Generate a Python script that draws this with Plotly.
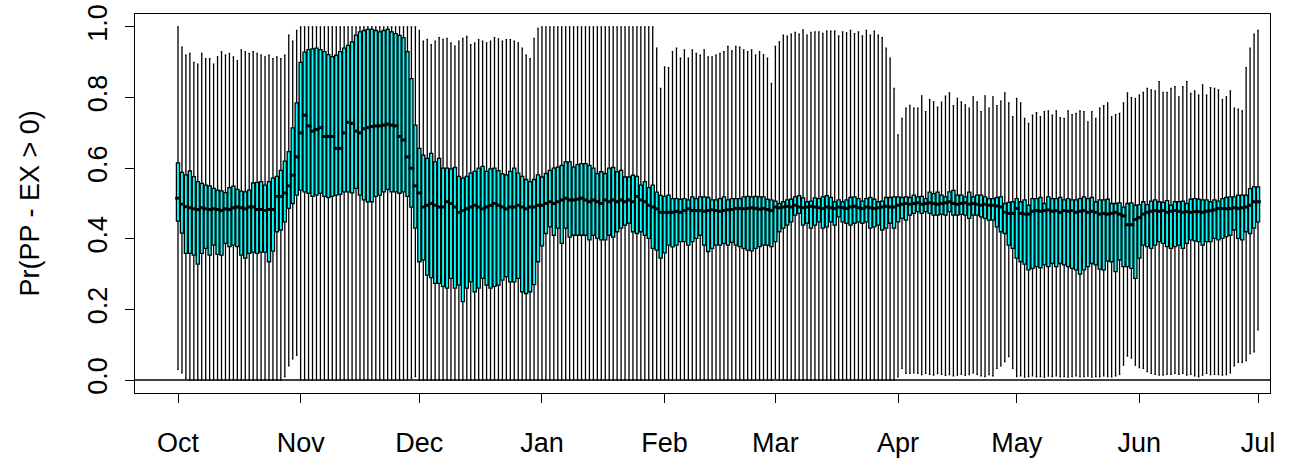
import pandas as pd
import plotly.graph_objects as go

# One box per day, 1 Oct to 1 Jul
days = pd.date_range("2018-10-01", "2019-07-01", freq="D")

month_starts = pd.date_range("2018-10-01", "2019-07-01", freq="MS")
month_labels = ["Oct", "Nov", "Dec", "Jan", "Feb", "Mar", "Apr", "May", "Jun", "Jul"]

# Upper whisker ends
upper = [
    # Oct
    1.0, 0.943, 0.92, 0.925, 0.90, 0.895, 0.925, 0.91, 0.91, 0.895, 0.915, 0.93, 0.92, 0.925, 0.915, 0.905,
    0.935, 0.93, 0.925, 0.93, 0.925, 0.92, 0.915, 0.92, 0.91, 0.915, 0.91, 0.92, 0.977, 0.96, 0.99,
    # Nov
    1.0, 1.0, 1.0, 1.0, 1.0, 1.0, 1.0, 1.0, 1.0, 1.0, 1.0, 1.0, 1.0, 1.0, 1.0,
    1.0, 1.0, 1.0, 1.0, 1.0, 1.0, 1.0, 1.0, 1.0, 1.0, 1.0, 1.0, 1.0, 1.0, 1.0,
    # Dec
    0.99, 0.96, 0.965, 0.95, 0.96, 0.97, 0.965, 0.968, 0.955, 0.946, 0.96, 0.968, 0.973, 0.95, 0.955, 0.964,
    0.96, 0.955, 0.96, 0.97, 0.966, 0.96, 0.964, 0.964, 0.96, 0.955, 0.94, 0.92, 0.91, 0.968, 0.996,
    # Jan
    1.0, 1.0, 1.0, 1.0, 1.0, 1.0, 1.0, 1.0, 1.0, 1.0, 1.0, 1.0, 1.0, 1.0, 1.0, 1.0,
    1.0, 1.0, 1.0, 1.0, 1.0, 1.0, 1.0, 1.0, 1.0, 1.0, 1.0, 1.0, 1.0, 0.94, 0.826,
    # Feb
    0.887, 0.885, 0.93, 0.94, 0.912, 0.935, 0.912, 0.935, 0.925, 0.92, 0.935, 0.915, 0.915, 0.92,
    0.925, 0.93, 0.945, 0.932, 0.945, 0.943, 0.935, 0.93, 0.935, 0.92, 0.93, 0.922, 0.912, 0.84,
    # Mar
    0.945, 0.958, 0.977, 0.974, 0.98, 0.985, 0.98, 0.992, 0.977, 0.985, 0.986, 0.986, 0.982, 0.988, 0.988, 0.988,
    0.975, 0.986, 0.983, 0.99, 0.981, 0.986, 0.975, 0.99, 0.977, 0.988, 0.977, 0.97, 0.94, 0.912, 0.826,
    # Apr
    0.694, 0.741, 0.77, 0.778, 0.77, 0.77, 0.805, 0.76, 0.794, 0.788, 0.773, 0.787, 0.804, 0.813, 0.777,
    0.798, 0.788, 0.779, 0.77, 0.802, 0.788, 0.76, 0.805, 0.77, 0.802, 0.777, 0.79, 0.813, 0.785, 0.746,
    # May
    0.798, 0.785, 0.741, 0.727, 0.75, 0.757, 0.746, 0.76, 0.762, 0.75, 0.762, 0.743, 0.741, 0.762, 0.752, 0.755,
    0.762, 0.76, 0.731, 0.76, 0.741, 0.77, 0.777, 0.785, 0.746, 0.752, 0.755, 0.785, 0.813, 0.80, 0.798,
    # Jun
    0.807, 0.815, 0.826, 0.822, 0.819, 0.845, 0.815, 0.815, 0.826, 0.831, 0.802, 0.831, 0.845, 0.812, 0.819,
    0.807, 0.836, 0.807, 0.828, 0.826, 0.822, 0.794, 0.802, 0.819, 0.77, 0.767, 0.762, 0.885, 0.94, 0.98,
    # Jul
    0.99,
]

# Upper quartiles
q3 = [
    # Oct
    0.615, 0.588, 0.581, 0.592, 0.576, 0.562, 0.557, 0.552, 0.55, 0.543, 0.538, 0.536, 0.531, 0.545, 0.549, 0.54,
    0.535, 0.533, 0.538, 0.558, 0.56, 0.562, 0.552, 0.562, 0.572, 0.577, 0.594, 0.62, 0.647, 0.714, 0.785,
    # Nov
    0.90, 0.929, 0.936, 0.938, 0.94, 0.936, 0.93, 0.922, 0.916, 0.92, 0.93, 0.94, 0.948, 0.958, 0.977,
    0.986, 0.99, 0.993, 0.993, 0.99, 0.986, 0.99, 0.993, 0.986, 0.981, 0.976, 0.97, 0.93, 0.854, 0.722,
    # Dec
    0.656, 0.637, 0.628, 0.642, 0.618, 0.628, 0.60, 0.60, 0.598, 0.602, 0.577, 0.572, 0.577, 0.586, 0.591, 0.60,
    0.605, 0.591, 0.598, 0.60, 0.593, 0.584, 0.581, 0.591, 0.60, 0.586, 0.577, 0.568, 0.562, 0.568, 0.581,
    # Jan
    0.575, 0.585, 0.594, 0.60, 0.603, 0.608, 0.618, 0.618, 0.603, 0.61, 0.613, 0.613, 0.608, 0.60, 0.585, 0.59,
    0.585, 0.60, 0.602, 0.59, 0.594, 0.575, 0.575, 0.58, 0.577, 0.552, 0.562, 0.545, 0.552, 0.532, 0.523,
    # Feb
    0.52, 0.524, 0.514, 0.514, 0.512, 0.514, 0.51, 0.519, 0.514, 0.519, 0.519, 0.517, 0.51, 0.51,
    0.514, 0.519, 0.51, 0.514, 0.514, 0.514, 0.519, 0.52, 0.519, 0.52, 0.519, 0.519, 0.512, 0.51,
    # Mar
    0.507, 0.50, 0.505, 0.51, 0.512, 0.519, 0.522, 0.516, 0.505, 0.507, 0.516, 0.514, 0.519, 0.522, 0.517, 0.505,
    0.51, 0.505, 0.51, 0.517, 0.519, 0.514, 0.507, 0.514, 0.517, 0.512, 0.505, 0.507, 0.517, 0.517, 0.519,
    # Apr
    0.519, 0.517, 0.519, 0.517, 0.524, 0.519, 0.52, 0.514, 0.532, 0.528, 0.532, 0.524, 0.519, 0.533, 0.537,
    0.524, 0.524, 0.519, 0.532, 0.519, 0.524, 0.524, 0.519, 0.514, 0.514, 0.517, 0.519, 0.50, 0.503, 0.505,
    # May
    0.514, 0.505, 0.51, 0.495, 0.514, 0.514, 0.517, 0.50, 0.519, 0.514, 0.514, 0.517, 0.51, 0.514, 0.51, 0.51,
    0.514, 0.519, 0.514, 0.517, 0.505, 0.51, 0.51, 0.512, 0.50, 0.50, 0.502, 0.49, 0.50, 0.502, 0.495,
    # Jun
    0.497, 0.505, 0.497, 0.507, 0.51, 0.505, 0.503, 0.508, 0.495, 0.505, 0.505, 0.507, 0.50, 0.512, 0.514,
    0.512, 0.51, 0.51, 0.505, 0.51, 0.507, 0.514, 0.517, 0.519, 0.519, 0.524, 0.524, 0.524, 0.542, 0.547,
    # Jul
    0.547,
]

# Medians
median = [
    # Oct
    0.515, 0.498, 0.491, 0.488, 0.485, 0.483, 0.488, 0.485, 0.483, 0.485, 0.483, 0.48, 0.485, 0.483, 0.488, 0.49,
    0.488, 0.485, 0.49, 0.49, 0.483, 0.483, 0.48, 0.483, 0.483, 0.52, 0.52, 0.53, 0.55, 0.58, 0.632,
    # Nov
    0.70, 0.75, 0.72, 0.705, 0.71, 0.715, 0.69, 0.69, 0.69, 0.656, 0.656, 0.70, 0.73, 0.727, 0.705,
    0.70, 0.712, 0.715, 0.718, 0.72, 0.72, 0.722, 0.725, 0.722, 0.72, 0.69, 0.68, 0.632, 0.60, 0.55,
    # Dec
    0.53, 0.49, 0.495, 0.50, 0.495, 0.49, 0.49, 0.505, 0.50, 0.49, 0.475, 0.48, 0.485, 0.49, 0.495, 0.49,
    0.485, 0.49, 0.495, 0.50, 0.495, 0.49, 0.485, 0.49, 0.49, 0.495, 0.49, 0.485, 0.49, 0.49, 0.495,
    # Jan
    0.495, 0.50, 0.505, 0.50, 0.505, 0.51, 0.515, 0.51, 0.51, 0.512, 0.515, 0.51, 0.505, 0.51, 0.505, 0.50,
    0.51, 0.505, 0.51, 0.505, 0.51, 0.505, 0.51, 0.505, 0.52, 0.51, 0.505, 0.495, 0.49, 0.485, 0.475,
    # Feb
    0.475, 0.475, 0.475, 0.478, 0.475, 0.48, 0.485, 0.48, 0.48, 0.48, 0.478, 0.48, 0.482, 0.48,
    0.478, 0.48, 0.482, 0.483, 0.486, 0.486, 0.485, 0.486, 0.488, 0.486, 0.484, 0.486, 0.483, 0.48,
    # Mar
    0.49, 0.488, 0.49, 0.492, 0.49, 0.495, 0.49, 0.488, 0.49, 0.492, 0.49, 0.488, 0.486, 0.49, 0.488, 0.486,
    0.49, 0.488, 0.486, 0.49, 0.492, 0.488, 0.486, 0.49, 0.488, 0.486, 0.488, 0.49, 0.492, 0.49, 0.49,
    # Apr
    0.495, 0.498, 0.50, 0.498, 0.50, 0.502, 0.498, 0.50, 0.502, 0.50, 0.498, 0.50, 0.502, 0.505, 0.50,
    0.498, 0.50, 0.502, 0.498, 0.50, 0.498, 0.495, 0.498, 0.495, 0.495, 0.493, 0.49, 0.475, 0.472, 0.472,
    # May
    0.486, 0.472, 0.47, 0.47, 0.478, 0.48, 0.478, 0.48, 0.482, 0.478, 0.48, 0.475, 0.48, 0.478, 0.48, 0.475,
    0.478, 0.48, 0.475, 0.478, 0.475, 0.47, 0.472, 0.47, 0.472, 0.475, 0.47, 0.465, 0.44, 0.44, 0.455,
    # Jun
    0.46, 0.47, 0.475, 0.478, 0.48, 0.478, 0.48, 0.475, 0.478, 0.48, 0.478, 0.475, 0.477, 0.475, 0.477,
    0.477, 0.475, 0.478, 0.48, 0.482, 0.486, 0.486, 0.485, 0.486, 0.488, 0.486, 0.488, 0.49, 0.495, 0.505,
    # Jul
    0.505,
]

# Lower quartiles
q1 = [
    # Oct
    0.45, 0.416, 0.359, 0.359, 0.354, 0.328, 0.359, 0.373, 0.354, 0.382, 0.356, 0.354, 0.387, 0.378, 0.382, 0.378,
    0.354, 0.345, 0.359, 0.362, 0.359, 0.362, 0.362, 0.335, 0.365, 0.42, 0.425, 0.448, 0.486, 0.50, 0.524,
    # Nov
    0.538, 0.533, 0.529, 0.52, 0.524, 0.529, 0.52, 0.517, 0.52, 0.524, 0.526, 0.533, 0.533, 0.53, 0.543,
    0.524, 0.51, 0.505, 0.505, 0.52, 0.524, 0.533, 0.54, 0.533, 0.533, 0.529, 0.533, 0.52, 0.49, 0.43,
    # Dec
    0.335, 0.34, 0.297, 0.29, 0.274, 0.274, 0.265, 0.26, 0.288, 0.26, 0.269, 0.222, 0.26, 0.278, 0.25, 0.26,
    0.288, 0.269, 0.26, 0.265, 0.269, 0.283, 0.293, 0.278, 0.278, 0.288, 0.25, 0.245, 0.25, 0.27, 0.335,
    # Jan
    0.38, 0.415, 0.434, 0.41, 0.43, 0.387, 0.43, 0.405, 0.41, 0.41, 0.41, 0.41, 0.397, 0.41, 0.401, 0.397,
    0.397, 0.41, 0.405, 0.42, 0.43, 0.439, 0.444, 0.42, 0.415, 0.42, 0.41, 0.401, 0.373, 0.368, 0.345,
    # Feb
    0.36, 0.382, 0.377, 0.382, 0.392, 0.392, 0.382, 0.392, 0.401, 0.41, 0.382, 0.364, 0.373, 0.382,
    0.382, 0.387, 0.382, 0.39, 0.382, 0.378, 0.373, 0.368, 0.366, 0.373, 0.378, 0.382, 0.382, 0.378,
    # Mar
    0.392, 0.42, 0.43, 0.439, 0.448, 0.467, 0.472, 0.439, 0.444, 0.43, 0.439, 0.448, 0.43, 0.434, 0.448, 0.439,
    0.462, 0.448, 0.444, 0.439, 0.444, 0.448, 0.444, 0.448, 0.43, 0.434, 0.439, 0.425, 0.43, 0.444, 0.43,
    # Apr
    0.448, 0.458, 0.453, 0.467, 0.472, 0.477, 0.472, 0.477, 0.472, 0.467, 0.467, 0.469, 0.467, 0.477, 0.467,
    0.467, 0.469, 0.467, 0.458, 0.467, 0.467, 0.462, 0.458, 0.453, 0.453, 0.434, 0.42, 0.415, 0.382, 0.373,
    # May
    0.345, 0.335, 0.328, 0.312, 0.316, 0.321, 0.318, 0.326, 0.321, 0.33, 0.321, 0.33, 0.326, 0.321, 0.316, 0.312,
    0.30, 0.312, 0.321, 0.33, 0.326, 0.314, 0.312, 0.337, 0.335, 0.307, 0.34, 0.321, 0.321, 0.316, 0.288,
    # Jun
    0.345, 0.382, 0.378, 0.373, 0.382, 0.392, 0.387, 0.378, 0.373, 0.378, 0.382, 0.373, 0.387, 0.397, 0.394,
    0.392, 0.382, 0.392, 0.392, 0.401, 0.397, 0.401, 0.406, 0.41, 0.425, 0.401, 0.397, 0.42, 0.415, 0.43,
    # Jul
    0.448,
]

# Lower whisker ends
lower = [
    # Oct
    0.03, 0.02, 0.005, 0.0, 0.0, 0.0, 0.0, 0.0, 0.0, 0.0, 0.0, 0.0, 0.0, 0.0, 0.0, 0.0,
    0.0, 0.0, 0.0, 0.0, 0.0, 0.0, 0.0, 0.0, 0.0, 0.0, 0.0, 0.01, 0.04, 0.06, 0.07,
    # Nov
    0.0, 0.0, 0.0, 0.0, 0.0, 0.0, 0.0, 0.0, 0.0, 0.0, 0.0, 0.0, 0.0, 0.0, 0.0,
    0.0, 0.0, 0.0, 0.0, 0.0, 0.0, 0.0, 0.0, 0.0, 0.0, 0.0, 0.0, 0.0, 0.005, 0.01,
    # Dec
    0.0, 0.0, 0.0, 0.0, 0.0, 0.0, 0.0, 0.0, 0.0, 0.0, 0.0, 0.0, 0.0, 0.0, 0.0, 0.0,
    0.0, 0.0, 0.0, 0.0, 0.0, 0.0, 0.0, 0.0, 0.0, 0.0, 0.0, 0.0, 0.0, 0.0, 0.0,
    # Jan
    0.0, 0.0, 0.0, 0.0, 0.0, 0.0, 0.0, 0.0, 0.0, 0.0, 0.0, 0.0, 0.0, 0.0, 0.0, 0.0,
    0.0, 0.0, 0.0, 0.0, 0.0, 0.0, 0.0, 0.0, 0.0, 0.0, 0.0, 0.0, 0.0, 0.0, 0.0,
    # Feb
    0.0, 0.0, 0.0, 0.0, 0.0, 0.0, 0.0, 0.0, 0.0, 0.0, 0.0, 0.0, 0.0, 0.0,
    0.0, 0.0, 0.0, 0.0, 0.0, 0.0, 0.0, 0.0, 0.0, 0.0, 0.0, 0.0, 0.0, 0.0,
    # Mar
    0.005, 0.0, 0.0, 0.0, 0.0, 0.0, 0.0, 0.0, 0.0, 0.0, 0.0, 0.0, 0.0, 0.0, 0.0, 0.0,
    0.0, 0.0, 0.0, 0.0, 0.0, 0.0, 0.0, 0.0, 0.0, 0.0, 0.0, 0.0, 0.0, 0.0, 0.0,
    # Apr
    0.009, 0.033, 0.019, 0.019, 0.02, 0.019, 0.015, 0.019, 0.016, 0.014, 0.018, 0.016, 0.013, 0.015, 0.012,
    0.014, 0.016, 0.013, 0.015, 0.02, 0.016, 0.012, 0.01, 0.015, 0.012, 0.033, 0.04, 0.052, 0.066, 0.033,
    # May
    0.01, 0.012, 0.008, 0.01, 0.012, 0.009, 0.01, 0.008, 0.011, 0.01, 0.012, 0.009, 0.01, 0.008, 0.01, 0.012,
    0.009, 0.01, 0.011, 0.008, 0.01, 0.009, 0.012, 0.01, 0.009, 0.012, 0.016, 0.042, 0.068, 0.062, 0.042,
    # Jun
    0.035, 0.033, 0.024, 0.019, 0.016, 0.014, 0.014, 0.016, 0.016, 0.019, 0.016, 0.019, 0.014, 0.016, 0.012,
    0.009, 0.014, 0.019, 0.015, 0.016, 0.015, 0.014, 0.015, 0.02, 0.04, 0.05, 0.05, 0.055, 0.075, 0.08,
    # Jul
    0.142,
]

for name, arr in [("upper", upper), ("q3", q3), ("median", median), ("q1", q1), ("lower", lower)]:
    if len(arr) != len(days):
        raise ValueError(f"{name} has {len(arr)} values, expected {len(days)}")

DAY_MS = 86400000
FONT = "Liberation Sans, Arial, sans-serif"
FONT_SIZE = 27

fig = go.Figure()

fig.add_trace(go.Box(
    x=days,
    q1=q1,
    median=median,
    q3=q3,
    lowerfence=lower,
    upperfence=upper,
    width=0.8 * DAY_MS,
    whiskerwidth=0.5,
    fillcolor="#00FFFF",
    line=dict(color="black", width=1.3),
    boxpoints=False,
    showlegend=False,
    hoverinfo="skip",
))

# Thick median bars
fig.add_trace(go.Scatter(
    x=days,
    y=median,
    mode="markers",
    marker=dict(symbol="line-ew", size=4, line=dict(color="black", width=3)),
    showlegend=False,
    hoverinfo="skip",
))

x_start = pd.Timestamp("2018-10-01") - pd.Timedelta(days=10.87)
x_end = x_start + pd.Timedelta(days=286.9)

fig.update_layout(
    width=1291,
    height=459,
    margin=dict(l=135, r=21, t=14, b=66, autoexpand=False),
    paper_bgcolor="white",
    plot_bgcolor="white",
    font=dict(family=FONT, size=FONT_SIZE, color="black"),
    xaxis=dict(
        type="date",
        range=[x_start, x_end],
        automargin=False,
        tickmode="array",
        tickvals=month_starts,
        ticktext=month_labels,
        ticks="outside",
        ticklen=9,
        tickwidth=1.3,
        tickcolor="black",
        ticklabelstandoff=16,
        showgrid=False,
        zeroline=False,
        showline=True,
        mirror=True,
        linecolor="black",
        linewidth=1.3,
    ),
    yaxis=dict(
        range=[-0.0368, 1.0368],
        automargin=False,
        tickmode="array",
        tickvals=[0.0, 0.2, 0.4, 0.6, 0.8, 1.0],
        ticktext=["0.0", "0.2", "0.4", "0.6", "0.8", "1.0"],
        tickangle=-90,
        ticks="outside",
        ticklen=9,
        tickwidth=1.3,
        tickcolor="black",
        ticklabelstandoff=7,
        showgrid=False,
        zeroline=False,
        showline=True,
        mirror=True,
        linecolor="black",
        linewidth=1.3,
    ),
    shapes=[dict(
        type="line", xref="paper", yref="y", x0=0, x1=1, y0=0, y1=0,
        line=dict(color="black", width=1.3), layer="above",
    )],
    annotations=[dict(
        text="Pr(PP - EX > 0)",
        xref="paper", yref="paper",
        x=(29 - 135) / 1135, y=0.5,
        xanchor="center", yanchor="middle",
        textangle=-90,
        showarrow=False,
        font=dict(family=FONT, size=FONT_SIZE, color="black"),
    )],
)

fig.write_html("out.html")
